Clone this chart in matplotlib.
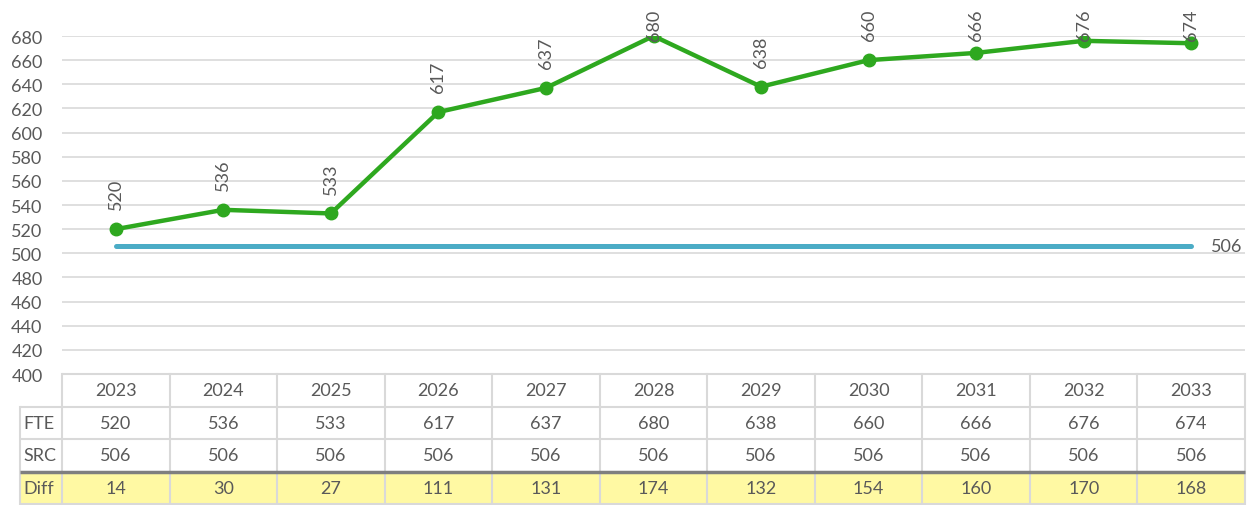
import matplotlib.pyplot as plt
from matplotlib.transforms import blended_transform_factory
from matplotlib.patches import Rectangle

plt.rcParams['font.family'] = ['Lato', 'DejaVu Sans']

years = ['2023', '2024', '2025', '2026', '2027', '2028', '2029', '2030', '2031', '2032', '2033']
fte = [520, 536, 533, 617, 637, 680, 638, 660, 666, 676, 674]
src = [506, 506, 506, 506, 506, 506, 506, 506, 506, 506, 506]
diff = [f - s for f, s in zip(fte, src)]

TEXT = '#595959'
GRID = '#d9d9d9'
GREEN = '#2ea81f'
BLUE = '#4bacc6'
YELLOW = '#fff9a3'
FS = 13

W, H = 1249, 506
fig = plt.figure(figsize=(W / 100, H / 100), dpi=100)
ax = fig.add_axes([62 / W, 1 - 375 / H, (1245 - 62) / W, (375 - 37) / H])

x = list(range(len(years)))
ax.set_xlim(-0.5, len(years) - 0.5)
ax.set_ylim(400, 680)
ax.set_yticks(range(400, 681, 20))
ax.set_xticks([])
for s in ax.spines.values():
    s.set_visible(False)
ax.tick_params(axis='y', length=0, pad=14, labelsize=FS, labelcolor=TEXT)
ax.yaxis.grid(True, color=GRID, linewidth=1.2)
ax.set_axisbelow(True)

# SRC baseline and FTE line
ax.plot(x, src, color=BLUE, linewidth=3.6, solid_capstyle='round', zorder=3)
ax.text(x[-1] + 0.18, src[-1], str(src[-1]), ha='left', va='center',
        fontsize=FS, color=TEXT)
ax.plot(x, fte, color=GREEN, linewidth=3.2, marker='o', markersize=9, zorder=4)
for xi, v in zip(x, fte):
    ax.text(xi, min(v + 16.5, 677), str(v), rotation=90, ha='center', va='bottom',
            fontsize=FS, color=TEXT, clip_on=False, zorder=5)

# data table under the plot
tr = blended_transform_factory(ax.transData, ax.transAxes)
rh = 32.5 / 338
left = -0.89
right = len(years) - 0.5

ax.add_patch(Rectangle((left, -4 * rh), right - left, rh, transform=tr,
                       facecolor=YELLOW, edgecolor='none', clip_on=False, zorder=1))

def hline(y, x0, color=GRID, lw=1.5):
    ax.plot([x0, right], [y, y], transform=tr, color=color, linewidth=lw,
            clip_on=False, zorder=2, solid_capstyle='butt')

hline(0, -0.5)
hline(-rh, left)
hline(-2 * rh, left)
hline(-4 * rh, left)
for k in range(len(years) + 1):
    ax.plot([k - 0.5, k - 0.5], [0, -4 * rh], transform=tr, color=GRID,
            linewidth=1.5, clip_on=False, zorder=2)
ax.plot([left, left], [-rh, -4 * rh], transform=tr, color=GRID,
        linewidth=1.5, clip_on=False, zorder=2)
hline(-3 * rh, left, color='#7f7f7f', lw=2.5)

rows = [('', years), ('FTE', fte), ('SRC', src), ('Diff', diff)]
for r, (name, vals) in enumerate(rows):
    yc = -(r + 0.5) * rh
    if name:
        ax.text(left + 0.035, yc, name, transform=tr, ha='left', va='center',
                fontsize=FS, color=TEXT)
    for xi, v in zip(x, vals):
        ax.text(xi, yc, str(v), transform=tr, ha='center', va='center',
                fontsize=FS, color=TEXT)

fig.savefig('out.png', dpi=100)
